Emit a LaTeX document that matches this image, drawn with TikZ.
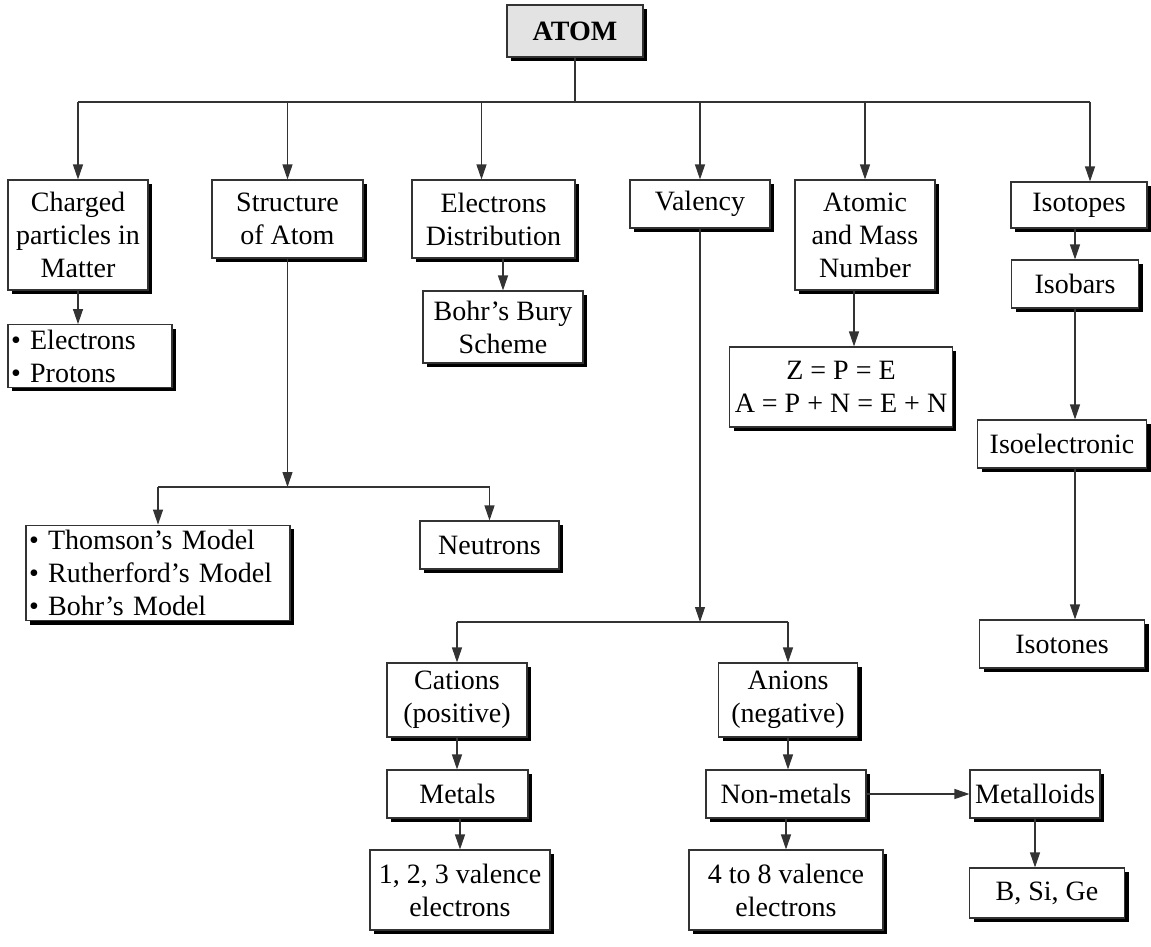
\documentclass[tikz,border=0pt]{standalone}
\usepackage{fontspec}
\setmainfont{Liberation Serif}
\usetikzlibrary{arrows.meta, shadows}
\tikzset{
  box/.style={draw=black!80, line width=1.1pt, fill=white, align=center,
    inner xsep=5pt, inner ysep=5pt, minimum height=48pt,
    font=\fontsize{28}{33}\selectfont,
    drop shadow={shadow xshift=4pt, shadow yshift=-4pt, fill=black, opacity=1}},
  lbox/.style={box, align=left, inner xsep=3pt},
  ln/.style={draw=black!80, line width=1.1pt},
  arr/.style={ln, -{Triangle[length=15pt,width=10pt]}}
}
\begin{document}
\begin{tikzpicture}[x=1pt, y=-1pt]
\useasboundingbox (0,0) rectangle (1151,947);
\node[box, fill=gray!22, minimum width=136pt, minimum height=52pt] (atom) at (575,31) {\textbf{ATOM}};
\node[box, minimum width=140pt, minimum height=110pt] (charged) at (78,235) {Charged\\particles in\\Matter};
\node[lbox, text width=158pt] (elist) at (90,356) {\textbullet\ Electrons\\\textbullet\ Protons};
\node[box, minimum width=151pt, minimum height=78pt] (structure) at (287.5,219) {Structure\\of Atom};
\node[box, minimum width=163pt, minimum height=78pt] (distrib) at (493.5,219) {Electrons\\Distribution};
\node[box, minimum width=160pt, minimum height=72pt] (bury) at (503,327) {Bohr’s Bury\\Scheme};
\node[box, minimum width=140pt] (valency) at (700,204) {Valency};
\node[box, minimum width=140pt, minimum height=110pt] (atomic) at (865,235) {Atomic\\and Mass\\Number};
\node[box, minimum width=213pt, minimum height=80pt] (zlist) at (841,387) {Z = P = E\\A = P + N = E + N};
\node[box, minimum width=136pt, minimum height=46pt] (isotopes) at (1079,205) {Isotopes};
\node[box, minimum width=127pt] (isobars) at (1075,284) {Isobars};
\node[box, minimum width=169pt] (isoel) at (1062,444) {Isoelectronic};
\node[box, minimum width=165pt] (isotones) at (1062,644) {Isotones};
\node[lbox, text width=258pt] (thomson) at (158,573) {\textbullet\ Thomson’s Model\\\textbullet\ Rutherford’s Model\\\textbullet\ Bohr’s Model};
\node[box, minimum width=139pt] (neutrons) at (489.5,545) {Neutrons};
\node[box, minimum width=140pt, minimum height=74pt] (cations) at (457,700) {Cations\\(positive)};
\node[box, minimum width=139pt, minimum height=74pt] (anions) at (788,700) {Anions\\(negative)};
\node[box, minimum width=141pt] (metals) at (457.5,794) {Metals};
\node[box, minimum width=160pt] (nonmetals) at (786,794) {Non-metals};
\node[box, minimum width=130pt] (metalloids) at (1035,794) {Metalloids};
\node[box, minimum width=180pt, minimum height=80pt] (val123) at (460,890) {1, 2, 3 valence\\electrons};
\node[box, minimum width=194pt, minimum height=80pt] (val48) at (786,890) {4 to 8 valence\\electrons};
\node[box, minimum width=155pt, minimum height=50pt] (bsige) at (1047,893) {B, Si, Ge};
\coordinate (bus1) at (575,102);
\coordinate (bus2) at (287.5,487);
\coordinate (bus3) at (700,622);
\draw[ln] (atom.south) -- (bus1);
\draw[ln] (charged.north |- bus1) -- ([xshift=11pt]isotopes.north |- bus1);
\draw[arr] (charged.north |- bus1) -- (charged.north);
\draw[arr] (structure.north |- bus1) -- (structure.north);
\draw[arr] ([xshift=-12pt]distrib.north |- bus1) -- ([xshift=-12pt]distrib.north);
\draw[arr] (valency.north |- bus1) -- (valency.north);
\draw[arr] (atomic.north |- bus1) -- (atomic.north);
\draw[arr] ([xshift=11pt]isotopes.north |- bus1) -- ([xshift=11pt]isotopes.north);
\draw[arr] (charged.south) -- (charged.south |- elist.north);
\draw[arr] (bury.north |- distrib.south) -- (bury.north);
\draw[arr] ([xshift=-11pt]atomic.south) -- ([xshift=-11pt]atomic.south |- zlist.north);
\draw[arr] (isobars.north |- isotopes.south) -- (isobars.north);
\draw[arr] (isobars.south) -- (isobars.south |- isoel.north);
\draw[arr] (isoel.south -| isobars.south) -- (isotones.north -| isobars.south);
\draw[arr] (structure.south) -- (bus2);
\draw[ln] (thomson.north |- bus2) -- (neutrons.north |- bus2);
\draw[arr] (thomson.north |- bus2) -- (thomson.north);
\draw[arr] (neutrons.north |- bus2) -- (neutrons.north);
\draw[arr] (valency.south) -- (bus3);
\draw[ln] (cations.north |- bus3) -- (anions.north |- bus3);
\draw[arr] (cations.north |- bus3) -- (cations.north);
\draw[arr] (anions.north |- bus3) -- (anions.north);
\draw[arr] (cations.south) -- (cations.south |- metals.north);
\draw[arr] (anions.south) -- (anions.south |- nonmetals.north);
\draw[arr] (nonmetals.east) -- (metalloids.west);
\draw[arr] (metals.south -| val123.north) -- (val123.north);
\draw[arr] (nonmetals.south) -- (nonmetals.south |- val48.north);
\draw[arr] (metalloids.south) -- (metalloids.south |- bsige.north);
\end{tikzpicture}
\end{document}
